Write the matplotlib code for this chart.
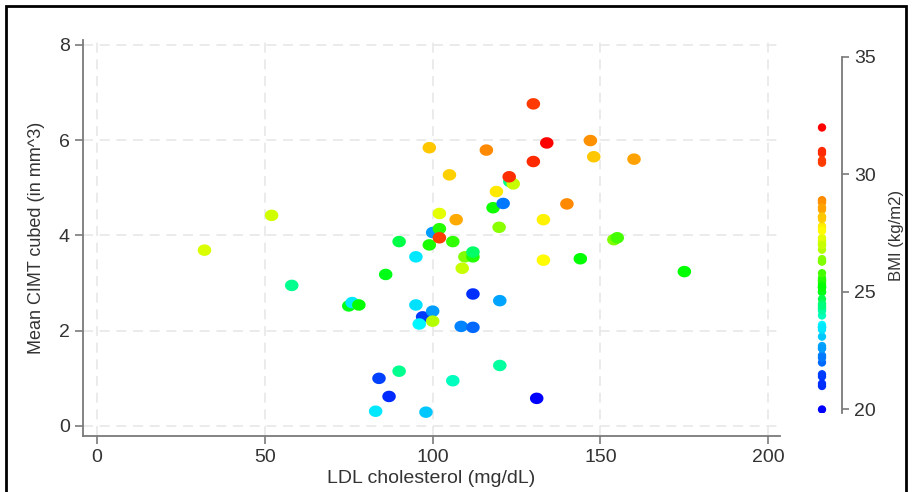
import numpy as np
import matplotlib
matplotlib.use("Agg")
import matplotlib.pyplot as plt
from matplotlib.colors import ListedColormap, hsv_to_rgb
from matplotlib.patches import Rectangle

plt.rcParams['font.family'] = ['Liberation Sans', 'DejaVu Sans']

# LDL cholesterol (mg/dL), mean CIMT cubed, BMI (kg/m2)
ldl = [32, 52, 58, 75, 76, 78, 86, 90, 90, 84, 87, 83, 98, 106, 120, 131,
       95, 97, 100, 96, 100, 108.5, 112, 112, 120, 95, 99, 100, 102, 102,
       106, 109.6, 112, 112, 108.8, 102, 107, 118, 119.8, 121, 119, 123, 124, 122.8,
       99, 105, 116, 130, 134, 130, 133, 140, 133, 147, 148, 160, 144, 154, 155, 175]
cimt = [3.69, 4.42, 2.95, 2.52, 2.59, 2.54, 3.18, 3.87, 1.15, 1.00, 0.62, 0.31, 0.29, 0.95, 1.27, 0.58,
        2.54, 2.29, 2.41, 2.14, 2.20, 2.09, 2.07, 2.77, 2.63, 3.55, 3.80, 4.06, 4.14, 3.95,
        3.87, 3.55, 3.55, 3.65, 3.31, 4.46, 4.33, 4.58, 4.17, 4.67, 4.92, 5.13, 5.08, 5.23,
        5.84, 5.27, 5.79, 6.76, 5.94, 5.55, 4.33, 4.66, 3.48, 5.99, 5.65, 5.60, 3.51, 3.91, 3.95, 3.24]
bmi = [27.2, 27.1, 24.3, 25.0, 23.5, 25.2, 25.0, 24.7, 24.3, 21.5, 21.0, 23.5, 23.1, 24.0, 24.2, 20.0,
       23.4, 21.4, 22.6, 23.6, 26.8, 22.3, 22.0, 21.1, 22.7, 23.5, 25.4, 22.6, 25.5, 30.5,
       25.6, 26.3, 25.5, 24.5, 27.0, 27.3, 28.5, 25.3, 26.4, 22.2, 27.8, 24.4, 27.0, 30.9,
       28.2, 28.1, 28.9, 30.6, 32.0, 31.0, 27.7, 28.9, 27.6, 28.8, 28.2, 28.6, 25.2, 26.3, 25.8, 25.2]

# rainbow blue -> red
anchors = [20, 21.5, 23.5, 25, 26.5, 27.8, 29, 30.5, 32]
hues = [240, 225, 185, 125, 85, 55, 30, 15, 0]
grid_b = np.linspace(20, 32, 256)
h = np.interp(grid_b, anchors, hues) / 360.0
cmap = ListedColormap(hsv_to_rgb(np.column_stack([h, np.ones(256), np.ones(256)])))

# slightly wide dots like the original
t = np.linspace(0, 2 * np.pi, 41)
oval = np.column_stack([np.cos(t), 0.85 * np.sin(t)])

fig = plt.figure(figsize=(9.13, 4.92), dpi=100)
ax = fig.add_axes([83/913, 56/492, (780-83)/913, (452-56)/492])

ax.scatter(ldl, cimt, c=bmi, cmap=cmap, vmin=20, vmax=32, s=95, marker=oval,
           linewidths=0, zorder=3)
ax.set_xlim(-4.2, 203.5)
ax.set_ylim(-0.21, 8.1)
ax.set_xticks([0, 50, 100, 150, 200])
ax.set_yticks([0, 2, 4, 6, 8])
ax.grid(True, color='#e8e8e8', linestyle=(0, (6, 4)), linewidth=1.2)
for sp in ['top', 'right']:
    ax.spines[sp].set_visible(False)
for sp in ['left', 'bottom']:
    ax.spines[sp].set_color('#7a7a7a')
    ax.spines[sp].set_linewidth(1.3)
ax.tick_params(colors='#7a7a7a', labelcolor='#333333', labelsize=14, length=6, width=1.2)
ax.set_xlabel("LDL cholesterol (mg/dL)", fontsize=14, color='#333333', labelpad=3)
ax.set_ylabel("Mean CIMT cubed (in mm^3)", fontsize=13, color='#333333', labelpad=10)

# BMI legend: one dot per observation along the BMI scale
cax = fig.add_axes([812/913, 79/492, 30/913, (413-57)/492])
cax.scatter(np.ones(len(bmi)), bmi, c=bmi, cmap=cmap, vmin=20, vmax=32, s=36, linewidths=0)
cax.set_xlim(0, 3)
cax.set_ylim(19.85, 35)
cax.set_xticks([])
cax.set_yticks([20, 25, 30, 35])
cax.yaxis.tick_right()
cax.yaxis.set_label_position('right')
for sp in ['top', 'left', 'bottom']:
    cax.spines[sp].set_visible(False)
cax.spines['right'].set_color('#7a7a7a')
cax.spines['right'].set_linewidth(1.3)
cax.tick_params(colors='#7a7a7a', labelcolor='#333333', labelsize=14, length=5, width=1.2)
cax.set_ylabel("BMI (kg/m2)", fontsize=12, color='#333333', labelpad=10)
cax.patch.set_alpha(0)

fig.add_artist(Rectangle((6/913, -0.1), 900/913, 486/492 + 0.1, transform=fig.transFigure,
                         fill=False, edgecolor='black', linewidth=2))

fig.savefig("out.png", dpi=100)
